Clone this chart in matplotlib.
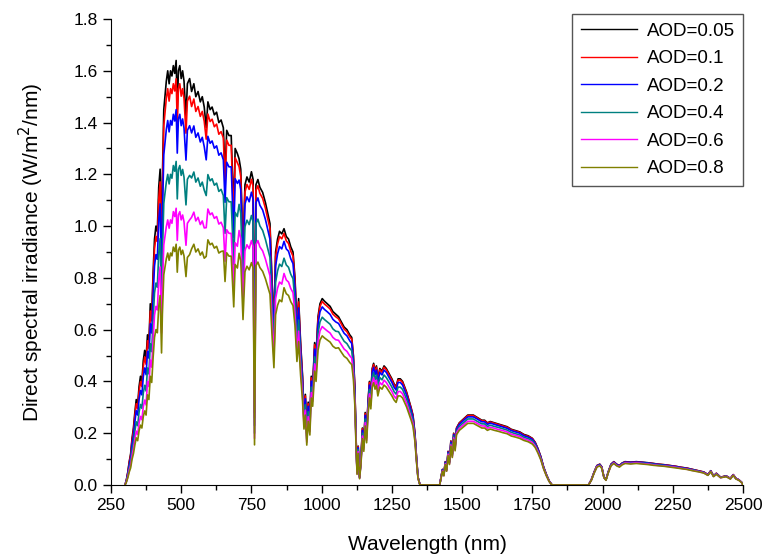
import matplotlib
matplotlib.use('Agg')
import matplotlib.pyplot as plt
from matplotlib.ticker import MultipleLocator

plt.rcParams['font.family'] = ['Liberation Sans', 'DejaVu Sans']

# Wavelength grid (nm)
wavelength = [
    300, 305, 310, 315, 320, 325, 330, 335, 340, 345, 350, 355, 360, 365, 370, 375,
    380, 385, 390, 395, 400, 405, 410, 415, 420, 425, 430,
    433, 438, 442, 447, 452, 457, 462, 467,
    472, 477, 482, 486, 490, 495, 500, 505, 510, 517, 522, 530,
    537, 545, 552, 560, 568, 575, 582,
    589, 595, 603, 610, 618, 626, 634, 642,
    650, 656, 662, 670, 678, 687, 692, 700,
    706, 712, 720, 727, 734, 742, 750, 756, 761,
    766, 773, 780, 790, 800, 810, 816, 823, 830, 836, 843, 850, 858,
    866, 874, 882, 890, 898, 905, 912, 918, 925, 932, 937, 942, 947, 952, 958,
    963, 968, 975, 980, 987, 994, 1002, 1010, 1020, 1030, 1040, 1050,
    1060, 1070, 1080, 1090, 1100, 1107, 1113, 1118, 1122, 1126, 1130, 1135, 1140, 1145, 1150, 1155, 1160,
    1165, 1170, 1175, 1180, 1185, 1190, 1195, 1200, 1207, 1215, 1222, 1230, 1240, 1250, 1258, 1265,
    1272, 1280, 1288, 1295, 1302, 1310, 1318, 1325, 1332, 1338, 1343, 1350, 1420,
    1425, 1430, 1435, 1440, 1445, 1450, 1455, 1460, 1465, 1470, 1475, 1480, 1490, 1500, 1510, 1520,
    1530, 1540, 1555, 1570, 1580, 1590, 1600, 1615, 1630, 1645, 1660, 1675, 1690, 1705, 1720, 1735,
    1750, 1760, 1770, 1780, 1790, 1800, 1810, 1820, 1950,
    1960, 1970, 1980, 1990, 1997, 2005, 2012, 2020, 2030, 2040, 2050, 2060, 2070, 2080, 2100, 2120,
    2140, 2160, 2180, 2200, 2220, 2240, 2260, 2280, 2300, 2320, 2340, 2360, 2375, 2385, 2395, 2405,
    2420, 2440, 2455, 2465, 2475, 2485, 2495, 2500,
]

aod_005 = [
    0, .02, .05, .09, .12, .18, .22, .28, .33, .31, .38, .42, .40, .48, .52, .49,
    .58, .55, .70, .66, .82, .95, 1.0, .98, 1.15, 1.22, .85,
    1.18, 1.45, 1.50, 1.56, 1.60, 1.55, 1.60, 1.58,
    1.62, 1.59, 1.64, 1.45, 1.60, 1.62, 1.57, 1.60, 1.56, 1.42, 1.55, 1.57,
    1.52, 1.55, 1.50, 1.52, 1.48, 1.50, 1.46,
    1.38, 1.48, 1.45, 1.46, 1.43, 1.44, 1.40, 1.41,
    1.38, 1.20, 1.37, 1.35, 1.35, 1.05, 1.30, 1.28,
    1.26, 1.22, 0.90, 1.16, 1.19, 1.17, 1.21, 1.18, 0.28,
    1.16, 1.18, 1.15, 1.13, 1.09, 1.04, 1.01, 0.80, 0.62, 0.90, 0.95, 0.98, 0.97,
    .99, .96, .95, .92, .90, .80, .62, .72, .55, .42, .28, .35, .20, .32, .25,
    .42, .38, .55, .50, .65, .70, .72, .71, .70, .69, .67, .66,
    .65, .63, .61, .60, .58, .57, .50, .38, .20, .05, .15, .03, .10, .22, .16, .28, .20,
    .32, .40, .35, .45, .47, .44, .46, .41, .45, .44, .46, .45, .43, .41, .39, .38,
    .41, .41, .40, .38, .36, .33, .30, .27, .20, .10, .03, 0, 0,
    .03, .06, .04, .09, .06, .13, .09, .17, .12, .20, .15, .22, .24, .25, .26, .27,
    .27, .27, .26, .25, .25, .24, .245, .24, .235, .23, .225, .215, .21, .205, .195, .19,
    .18, .165, .14, .11, .07, .04, .015, 0, 0,
    .02, .05, .075, .08, .07, .03, .02, .05, .08, .09, .08, .075, .085, .09, .088, .09,
    .088, .086, .083, .08, .078, .075, .072, .068, .065, .06, .055, .05, .04, .055, .035, .045,
    .03, .035, .025, .04, .025, .02, .01, 0,
]

aod_01 = [
    0, .019, .048, .086, .114, .171, .209, .266, .314, .295, .361, .399, .38, .456, .494, .466,
    .557, .528, .672, .634, .787, .912, .96, .941, 1.104, 1.171, .816,
    1.129, 1.388, 1.436, 1.493, 1.531, 1.483, 1.531, 1.512,
    1.55, 1.522, 1.569, 1.388, 1.531, 1.55, 1.502, 1.531, 1.493, 1.359, 1.483, 1.502,
    1.462, 1.491, 1.443, 1.462, 1.424, 1.443, 1.405,
    1.336, 1.433, 1.404, 1.413, 1.384, 1.394, 1.355, 1.365,
    1.341, 1.166, 1.332, 1.312, 1.312, 1.021, 1.264, 1.244,
    1.23, 1.191, .878, 1.132, 1.161, 1.142, 1.181, 1.152, .26,
    1.137, 1.156, 1.127, 1.107, 1.068, 1.019, .99, .784, .608, .882, .931, .96, .951,
    .972, .943, .933, .903, .884, .786, .609, .707, .54, .412, .275, .344, .196, .314, .246,
    .414, .374, .542, .493, .64, .69, .709, .699, .69, .68, .66, .65,
    .642, .622, .602, .592, .572, .563, .494, .375, .197, .049, .148, .03, .099, .217, .158, .276, .197,
    .316, .396, .346, .445, .465, .435, .455, .405, .445, .435, .455, .445, .425, .405, .386, .376,
    .405, .405, .396, .376, .356, .326, .297, .267, .198, .099, .03, 0, 0,
    .03, .06, .04, .089, .06, .129, .089, .169, .119, .198, .149, .218, .238, .248, .258, .268,
    .268, .268, .258, .248, .248, .238, .243, .238, .233, .228, .223, .213, .208, .203, .193, .188,
    .179, .164, .139, .109, .069, .04, .015, 0, 0,
    .02, .05, .075, .08, .07, .03, .02, .05, .08, .089, .08, .075, .084, .089, .087, .089,
    .087, .085, .083, .08, .078, .075, .072, .068, .065, .06, .055, .05, .04, .055, .035, .045,
    .03, .035, .025, .04, .025, .02, .01, 0,
]

aod_02 = [
    0, .017, .044, .078, .104, .157, .191, .244, .287, .270, .331, .365, .348, .418, .452, .426,
    .516, .49, .623, .587, .73, .846, .89, .872, 1.024, 1.086, .757,
    1.038, 1.276, 1.32, 1.373, 1.408, 1.364, 1.408, 1.39,
    1.432, 1.406, 1.45, 1.282, 1.414, 1.432, 1.388, 1.414, 1.379, 1.255, 1.37, 1.388,
    1.36, 1.387, 1.343, 1.36, 1.325, 1.343, 1.307,
    1.256, 1.347, 1.32, 1.329, 1.301, 1.31, 1.274, 1.283,
    1.256, 1.092, 1.247, 1.229, 1.229, .956, 1.183, 1.165,
    1.178, 1.141, .842, 1.085, 1.113, 1.094, 1.131, 1.103, .23,
    1.09, 1.109, 1.081, 1.062, 1.025, .978, .949, .752, .583, .846, .893, .921, .912,
    .941, .912, .903, .874, .855, .76, .589, .684, .523, .399, .266, .333, .19, .304, .238,
    .401, .363, .525, .478, .621, .669, .688, .678, .669, .659, .64, .63,
    .624, .605, .586, .576, .557, .547, .48, .365, .192, .048, .144, .029, .096, .211, .154, .269, .192,
    .309, .386, .338, .435, .454, .425, .444, .396, .435, .425, .444, .435, .415, .396, .377, .367,
    .396, .396, .386, .367, .348, .319, .29, .261, .193, .097, .029, 0, 0,
    .029, .059, .039, .088, .059, .127, .088, .166, .117, .195, .146, .215, .234, .244, .254, .263,
    .263, .263, .254, .244, .244, .234, .239, .234, .229, .224, .219, .21, .205, .2, .19, .185,
    .176, .161, .137, .107, .068, .039, .015, 0, 0,
    .02, .049, .074, .079, .069, .029, .02, .049, .079, .088, .079, .074, .084, .088, .087, .088,
    .087, .085, .082, .079, .077, .074, .071, .067, .064, .059, .054, .049, .039, .054, .034, .044,
    .029, .034, .025, .039, .025, .02, .01, 0,
]

aod_04 = [
    0, .015, .037, .067, .089, .133, .163, .207, .244, .229, .281, .311, .296, .355, .385, .363,
    .452, .429, .546, .515, .64, .741, .78, .764, .897, .952, .663,
    .885, 1.088, 1.125, 1.17, 1.2, 1.163, 1.2, 1.185,
    1.234, 1.212, 1.25, 1.105, 1.219, 1.234, 1.196, 1.219, 1.189, 1.082, 1.181, 1.196,
    1.186, 1.209, 1.17, 1.186, 1.154, 1.17, 1.139,
    1.118, 1.199, 1.175, 1.183, 1.158, 1.166, 1.134, 1.142,
    1.118, .972, 1.11, 1.094, 1.094, .851, 1.053, 1.037,
    1.084, 1.049, .774, .998, 1.023, 1.006, 1.041, 1.015, .2,
    1.009, 1.027, 1.001, .983, .948, .905, .879, .696, .539, .783, .827, .853, .844,
    .876, .85, .841, .814, .797, .708, .549, .637, .487, .372, .248, .31, .177, .283, .221,
    .378, .342, .495, .45, .585, .63, .648, .639, .63, .621, .603, .594,
    .592, .573, .555, .546, .528, .519, .455, .346, .182, .046, .137, .027, .091, .2, .146, .255, .182,
    .295, .369, .323, .415, .434, .406, .425, .378, .415, .406, .425, .415, .397, .378, .36, .351,
    .378, .378, .369, .351, .332, .305, .277, .249, .185, .092, .028, 0, 0,
    .028, .057, .038, .085, .057, .123, .085, .16, .113, .189, .141, .207, .226, .236, .245, .255,
    .255, .255, .245, .236, .236, .226, .231, .226, .222, .217, .212, .203, .198, .193, .184, .179,
    .17, .156, .132, .104, .066, .038, .014, 0, 0,
    .019, .048, .072, .077, .067, .029, .019, .048, .077, .086, .077, .072, .082, .086, .084, .086,
    .084, .083, .08, .077, .075, .072, .069, .065, .062, .058, .053, .048, .038, .053, .034, .043,
    .029, .034, .024, .038, .024, .019, .01, 0,
]

aod_06 = [
    0, .013, .032, .057, .076, .113, .139, .176, .208, .195, .239, .265, .252, .302, .328, .309,
    .40, .38, .483, .455, .566, .656, .69, .676, .794, .842, .587,
    .755, .928, .96, .998, 1.024, .992, 1.024, 1.011,
    1.056, 1.037, 1.069, .945, 1.043, 1.056, 1.024, 1.043, 1.017, .926, 1.011, 1.024,
    1.034, 1.054, 1.02, 1.034, 1.006, 1.02, .993,
    .994, 1.066, 1.044, 1.051, 1.03, 1.037, 1.008, 1.015,
    .994, .864, .986, .972, .972, .756, .936, .922,
    .983, .952, .702, .905, .928, .913, .944, .92, .18,
    .928, .944, .92, .904, .872, .832, .808, .64, .496, .72, .76, .784, .776,
    .817, .792, .784, .759, .743, .66, .512, .594, .454, .347, .231, .289, .165, .264, .206,
    .357, .323, .468, .425, .553, .595, .612, .604, .595, .587, .57, .561,
    .559, .542, .525, .516, .499, .49, .43, .327, .172, .043, .129, .026, .086, .189, .138, .241, .172,
    .282, .352, .308, .396, .414, .387, .405, .361, .396, .387, .405, .396, .378, .361, .343, .334,
    .361, .361, .352, .334, .317, .29, .264, .238, .176, .088, .026, 0, 0,
    .027, .055, .036, .082, .055, .119, .082, .155, .109, .182, .137, .201, .219, .228, .237, .246,
    .246, .246, .237, .228, .228, .219, .223, .219, .214, .21, .205, .196, .192, .187, .178, .173,
    .164, .15, .128, .1, .064, .036, .014, 0, 0,
    .019, .047, .071, .075, .066, .028, .019, .047, .075, .085, .075, .071, .08, .085, .083, .085,
    .083, .081, .078, .075, .073, .071, .068, .064, .061, .056, .052, .047, .038, .052, .033, .042,
    .028, .033, .024, .038, .024, .019, .009, 0,
]

aod_08 = [
    0, .011, .028, .05, .066, .099, .121, .154, .182, .171, .209, .231, .22, .264, .286, .27,
    .348, .33, .42, .396, .492, .57, .60, .588, .69, .732, .51,
    .661, .812, .84, .874, .896, .868, .896, .885,
    .919, .902, .93, .822, .907, .919, .89, .907, .885, .805, .879, .89,
    .912, .93, .90, .912, .888, .90, .876,
    .883, .947, .928, .934, .915, .922, .896, .902,
    .904, .786, .897, .884, .884, .688, .852, .838,
    .895, .866, .639, .824, .845, .831, .859, .838, .155,
    .847, .861, .84, .825, .796, .759, .737, .584, .453, .657, .694, .715, .708,
    .762, .739, .732, .708, .693, .616, .477, .554, .424, .323, .216, .27, .154, .246, .193,
    .336, .304, .44, .40, .52, .56, .576, .568, .56, .552, .536, .528,
    .53, .513, .497, .489, .473, .465, .408, .31, .163, .041, .122, .024, .082, .179, .13, .228, .163,
    .269, .336, .294, .378, .395, .37, .386, .344, .378, .37, .386, .378, .361, .344, .328, .319,
    .344, .344, .336, .319, .302, .277, .252, .227, .168, .084, .025, 0, 0,
    .026, .053, .035, .079, .053, .114, .079, .15, .106, .176, .132, .194, .211, .22, .229, .238,
    .238, .238, .229, .22, .22, .211, .216, .211, .207, .202, .198, .189, .185, .18, .172, .167,
    .158, .145, .123, .097, .062, .035, .013, 0, 0,
    .018, .046, .069, .074, .064, .028, .018, .046, .074, .083, .074, .069, .078, .083, .081, .083,
    .081, .079, .076, .074, .072, .069, .066, .063, .06, .055, .051, .046, .037, .051, .032, .041,
    .028, .032, .023, .037, .023, .018, .009, 0,
]

labels = ['AOD=0.05', 'AOD=0.1', 'AOD=0.2', 'AOD=0.4', 'AOD=0.6', 'AOD=0.8']
series = [aod_005, aod_01, aod_02, aod_04, aod_06, aod_08]
colors = ['#000000', '#ff0000', '#0000ff', '#008080', '#ff00ff', '#808000']

fig = plt.figure(figsize=(7.68, 5.6), dpi=100)
ax = fig.add_axes([0.1445, 0.134, 0.823, 0.832])

for vals, lab, col in zip(series, labels, colors):
    ax.plot(wavelength, vals, color=col, linewidth=1.2, label=lab)

ax.set_xlim(250, 2500)
ax.set_ylim(0, 1.8)
ax.xaxis.set_major_locator(MultipleLocator(250))
ax.xaxis.set_minor_locator(MultipleLocator(125))
ax.yaxis.set_major_locator(MultipleLocator(0.2))
ax.yaxis.set_minor_locator(MultipleLocator(0.1))
ax.yaxis.set_major_formatter(plt.FormatStrFormatter('%.1f'))
ax.tick_params(which='major', direction='out', length=6, width=1, labelsize=12.5)
ax.tick_params(which='minor', direction='out', length=3.5, width=1)
ax.spines['top'].set_visible(False)
ax.spines['right'].set_visible(False)

ax.set_xlabel('Wavelength (nm)', fontsize=15, labelpad=16)
ax.set_ylabel('Direct spectral irradiance (W/m$^2$/nm)', fontsize=15, labelpad=20)

leg = ax.legend(loc='upper right', bbox_to_anchor=(1.0, 1.01), borderaxespad=0,
                fontsize=13.5, handlelength=3.0, handletextpad=0.5, labelspacing=0.55,
                borderpad=0.45, fancybox=False, edgecolor='#555555', framealpha=1)
leg.get_frame().set_linewidth(1.0)
for line in leg.get_lines():
    line.set_linewidth(1.0)

fig.savefig('out.png', dpi=100)
